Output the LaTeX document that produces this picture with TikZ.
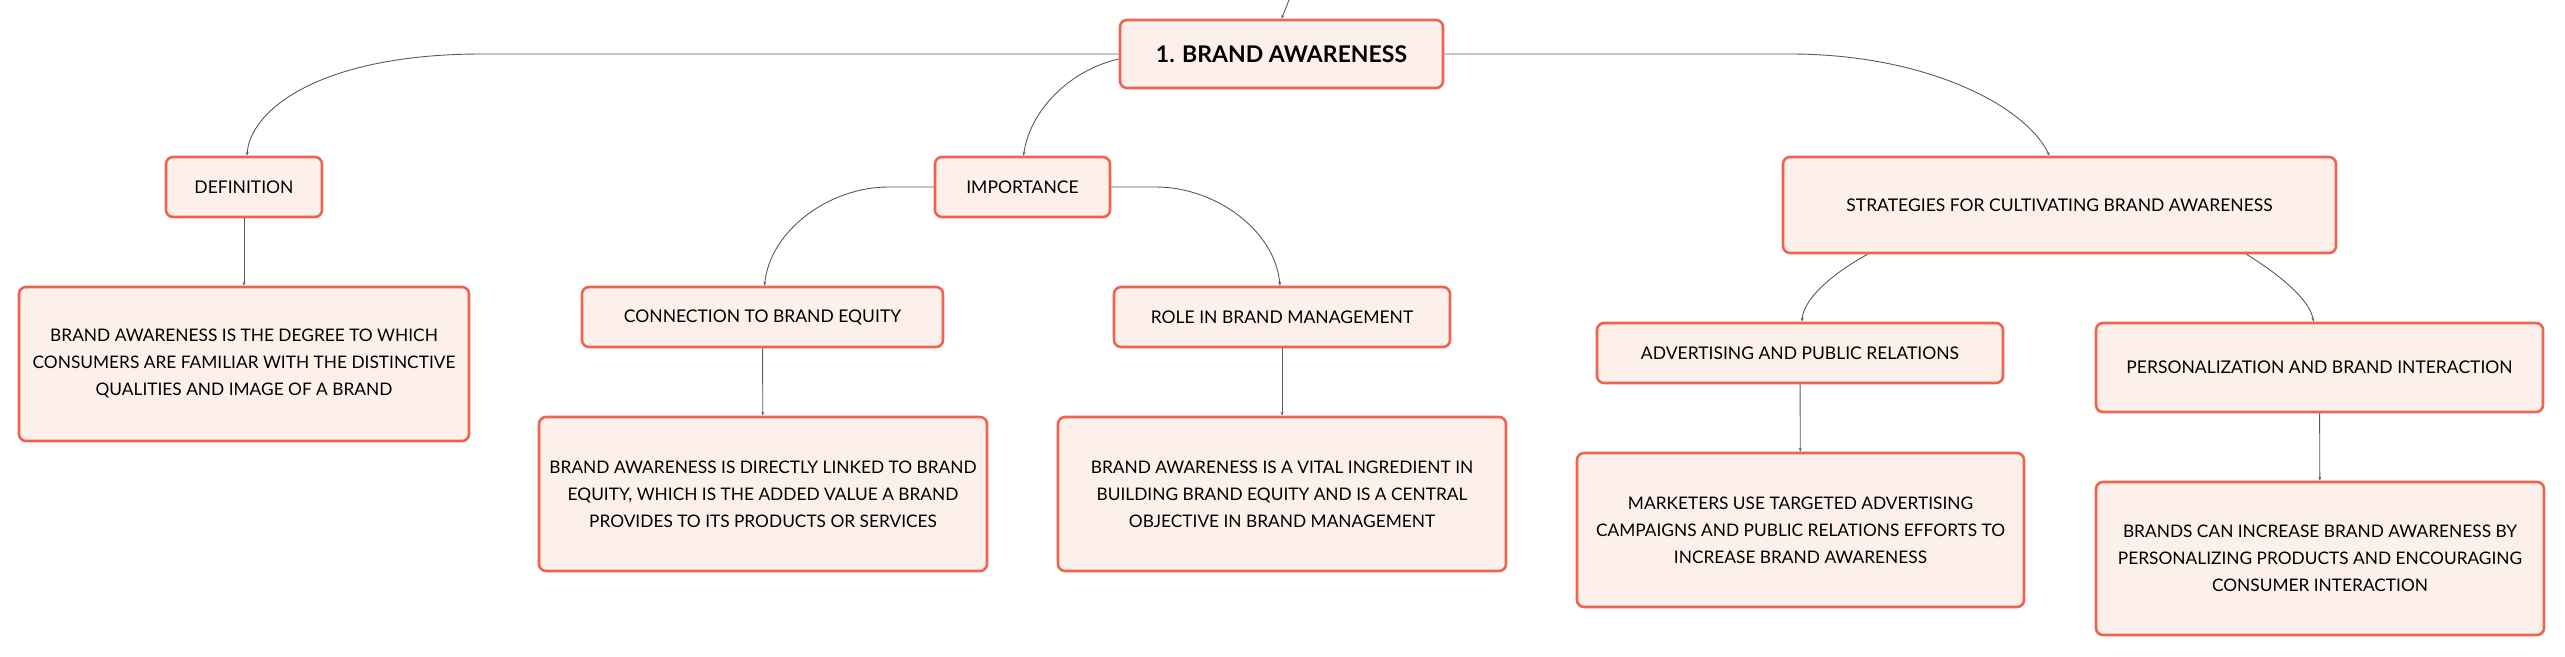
\documentclass[tikz,border=0pt]{standalone}
\usepackage{fontspec}
\setmainfont{Lato}
\usepackage{xcolor}
\usetikzlibrary{arrows.meta}
\definecolor{boxline}{HTML}{EE6450}
\definecolor{boxfill}{HTML}{FDF0EB}
\definecolor{linkgray}{HTML}{5A5A5A}

\begin{document}
\begin{tikzpicture}[
  x=1pt, y=-1pt,
  box/.style={draw=boxline, fill=boxfill, line width=2.6pt, rounded corners=7pt, align=center, inner sep=0pt},
  head/.style={box, font=\fontsize{17.5}{24}\selectfont},
  txt/.style={box, font=\fontsize{17.3}{27}\selectfont},
  link/.style={draw=linkgray, line width=0.9pt, -{Stealth[length=4pt,width=3pt]}}
]
\useasboundingbox (0,0) rectangle (2565,656);

\node[box, minimum width=323pt, minimum height=68pt, font=\fontsize{23}{28}\selectfont\bfseries] (root) at (1281.5,54) {1. BRAND AWARENESS};

\node[head, minimum width=156pt, minimum height=60pt] (defn) at (244,187) {DEFINITION};
\node[head, minimum width=175pt, minimum height=60pt] (imp) at (1022.5,187) {IMPORTANCE};
\node[head, minimum width=553pt, minimum height=96pt] (strat) at (2059.5,205) {STRATEGIES FOR CULTIVATING BRAND AWARENESS};

\node[txt, minimum width=450pt, minimum height=154pt] (defntxt) at (244,364)
  {BRAND AWARENESS IS THE DEGREE TO WHICH\\CONSUMERS ARE FAMILIAR WITH THE DISTINCTIVE\\QUALITIES AND IMAGE OF A BRAND};

\node[head, minimum width=361pt, minimum height=60pt] (conn) at (762.5,317) {CONNECTION TO BRAND EQUITY};
\node[head, minimum width=336pt, minimum height=60pt] (role) at (1282,317) {ROLE IN BRAND MANAGEMENT};
\node[txt, minimum width=448pt, minimum height=154pt] (conntxt) at (763,494)
  {BRAND AWARENESS IS DIRECTLY LINKED TO BRAND\\EQUITY, WHICH IS THE ADDED VALUE A BRAND\\PROVIDES TO ITS PRODUCTS OR SERVICES};
\node[txt, minimum width=448pt, minimum height=154pt] (roletxt) at (1282,494)
  {BRAND AWARENESS IS A VITAL INGREDIENT IN\\BUILDING BRAND EQUITY AND IS A CENTRAL\\OBJECTIVE IN BRAND MANAGEMENT};

\node[head, minimum width=406pt, minimum height=60pt] (adv) at (1800,353) {ADVERTISING AND PUBLIC RELATIONS};
\node[head, minimum width=447pt, minimum height=89pt] (pers) at (2319.5,367.5) {PERSONALIZATION AND BRAND INTERACTION};
\node[txt, minimum width=447pt, minimum height=154pt] (advtxt) at (1800.5,530)
  {MARKETERS USE TARGETED ADVERTISING\\CAMPAIGNS AND PUBLIC RELATIONS EFFORTS TO\\INCREASE BRAND AWARENESS};
\node[txt, minimum width=448pt, minimum height=153pt] (perstxt) at (2320,558.5)
  {BRANDS CAN INCREASE BRAND AWARENESS BY\\PERSONALIZING PRODUCTS AND ENCOURAGING\\CONSUMER INTERACTION};

% links from the top
\coordinate (up) at (1289,0);
\draw[link] (up) -- (root.north);
\draw[link] (root.west) -- (482,54) .. controls (320,54) and (250,110) .. ([xshift=3pt]defn.north);
\draw[link] ([yshift=-5pt]root.west) .. controls (1070,70) and (1030,110) .. ([xshift=1pt]imp.north);
\draw[link] (root.east) -- (1790,54) .. controls (1925,54) and (2025,105) .. ([xshift=-10pt]strat.north);

% second level
\draw[link] (imp.west) -- (888,187) .. controls (830,187) and (770,230) .. ([xshift=2pt]conn.north);
\draw[link] (imp.east) -- (1156,187) .. controls (1215,187) and (1275,230) .. ([xshift=-2pt]role.north);
\draw[link] ([xshift=-192pt]strat.south) .. controls (1830,275) and (1803,300) .. ([xshift=2pt]adv.north);
\draw[link] ([xshift=187pt]strat.south) .. controls (2280,275) and (2310,300) .. ([xshift=-6pt]pers.north);

% down to the texts
\draw[link] (defn) -- (defntxt);
\draw[link] (conn) -- (conntxt);
\draw[link] (role) -- (roletxt);
\draw[link] (adv) -- (advtxt);
\draw[link] (pers) -- (perstxt);
\end{tikzpicture}
\end{document}
